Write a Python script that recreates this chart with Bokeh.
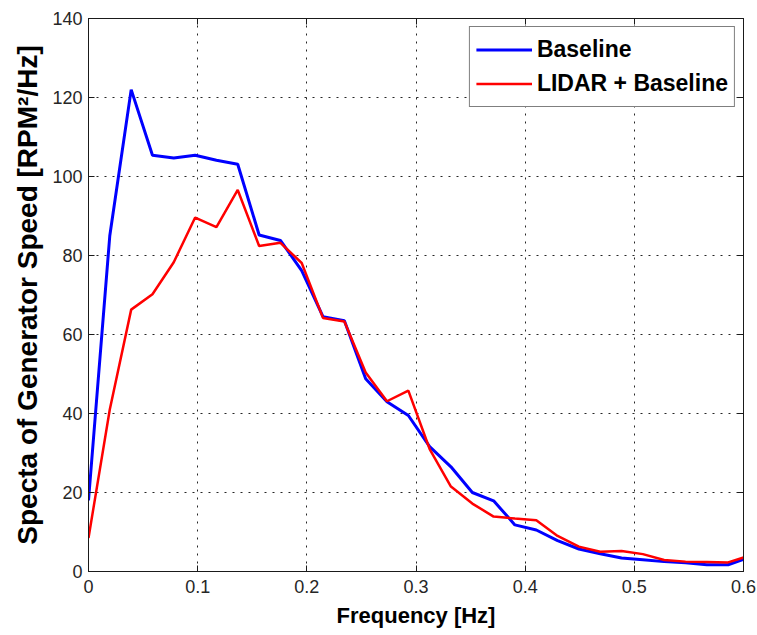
from bokeh.plotting import figure
from bokeh.models import Range1d, FixedTicker, LinearAxis, Legend, LegendItem
from bokeh.embed import file_html
from bokeh.resources import INLINE

# ---- data ----
freq = [0.0, 0.0195, 0.0391, 0.0586, 0.0781, 0.0977, 0.1172, 0.1367, 0.1563, 0.1758,
        0.1953, 0.2148, 0.2344, 0.2539, 0.2734, 0.2930, 0.3125, 0.3320, 0.3516, 0.3711,
        0.3906, 0.4102, 0.4297, 0.4492, 0.4688, 0.4883, 0.5078, 0.5273, 0.5469, 0.5664,
        0.5859, 0.6055]
baseline = [18.0, 85.0, 122.0, 105.4, 104.7, 105.4, 104.1, 103.1, 85.2, 83.8,
            76.2, 64.5, 63.5, 48.8, 43.0, 39.5, 31.6, 26.5, 20.0, 17.9,
            11.8, 10.5, 7.8, 5.7, 4.5, 3.4, 3.0, 2.5, 2.2, 1.7,
            1.7, 3.6]
lidar_baseline = [8.5, 41.0, 66.3, 70.2, 78.3, 89.6, 87.2, 96.6, 82.4, 83.2,
                  78.1, 64.2, 63.3, 50.4, 43.1, 45.8, 31.0, 21.5, 17.2, 13.9,
                  13.4, 13.0, 9.0, 6.3, 5.0, 5.2, 4.4, 2.9, 2.5, 2.4,
                  2.3, 4.0]
series_names = ["Baseline", "LIDAR + Baseline"]
x_ticks = [0, 0.1, 0.2, 0.3, 0.4, 0.5, 0.6]
x_tick_labels = ["0", "0.1", "0.2", "0.3", "0.4", "0.5", "0.6"]
y_ticks = [0, 20, 40, 60, 80, 100, 120, 140]
y_tick_labels = ["0", "20", "40", "60", "80", "100", "120", "140"]
x_label = "Frequency [Hz]"
y_label = "Specta of Generator Speed [RPM\u00b2/Hz]"

FONT = "Liberation Sans"

p = figure(width=757, height=635, output_backend="svg", toolbar_location=None,
           x_range=Range1d(0, 0.6), y_range=Range1d(0, 140),
           min_border_left=88, min_border_right=14, min_border_top=18, min_border_bottom=64)
p.background_fill_color = "white"
p.border_fill_color = "white"
p.outline_line_color = "#1a1a1a"
p.outline_line_width = 1

for ax, ticks, labels in ((p.xaxis[0], x_ticks, x_tick_labels), (p.yaxis[0], y_ticks, y_tick_labels)):
    ax.ticker = FixedTicker(ticks=ticks)
    ax.major_label_overrides = {t: l for t, l in zip(ticks, labels)}
    ax.major_tick_in = 6
    ax.major_tick_out = 0
    ax.minor_tick_line_color = None
    ax.axis_line_color = "#1a1a1a"
    ax.major_tick_line_color = "#1a1a1a"
    ax.major_label_text_font = FONT
    ax.major_label_text_font_size = "18px"
    ax.major_label_text_color = "#262626"
    ax.axis_label_text_font = FONT
    ax.axis_label_text_font_style = "bold"
    ax.axis_label_text_color = "black"

p.xaxis[0].axis_label = x_label
p.xaxis[0].axis_label_text_font_size = "22px"
p.xaxis[0].major_label_standoff = 8
p.xaxis[0].axis_label_standoff = 7
p.yaxis[0].axis_label = y_label
p.yaxis[0].axis_label_text_font_size = "28px"
p.yaxis[0].major_label_standoff = 6
p.yaxis[0].axis_label_standoff = 6

# mirrored axes (ticks inside on top and right), no labels
top_ax = LinearAxis(ticker=FixedTicker(ticks=x_ticks),
                    major_label_overrides={t: "" for t in x_ticks},
                    major_label_text_font_size="1px",
                    major_tick_in=6, major_tick_out=0, minor_tick_line_color=None,
                    axis_line_color="#1a1a1a", major_tick_line_color="#1a1a1a",
                    major_label_standoff=0)
right_ax = LinearAxis(ticker=FixedTicker(ticks=y_ticks),
                      major_label_overrides={t: "" for t in y_ticks},
                      major_label_text_font_size="1px",
                      major_tick_in=6, major_tick_out=0, minor_tick_line_color=None,
                      axis_line_color="#1a1a1a", major_tick_line_color="#1a1a1a",
                      major_label_standoff=0)
p.add_layout(top_ax, "above")
p.add_layout(right_ax, "right")

for g in (p.xgrid[0], p.ygrid[0]):
    g.grid_line_color = "black"
    g.grid_line_dash = "2 6"
    g.grid_line_width = 1
    g.grid_line_alpha = 0.85

r_base = p.line(freq, baseline, line_color="#0000ff", line_width=3)
r_lidar = p.line(freq, lidar_baseline, line_color="#ff0000", line_width=2.5)

legend = Legend(items=[LegendItem(label=series_names[0], renderers=[r_base]),
                       LegendItem(label=series_names[1], renderers=[r_lidar])],
                location="top_right")
legend.margin = 8
legend.padding = 6
legend.spacing = 1
legend.label_height = 33
legend.glyph_height = 33
legend.glyph_width = 56
legend.label_standoff = 5
legend.label_text_font = FONT
legend.label_text_font_size = "23px"
legend.label_text_font_style = "bold"
legend.label_text_color = "black"
legend.border_line_color = "black"
legend.border_line_width = 1
legend.background_fill_color = "white"
legend.background_fill_alpha = 1.0
p.add_layout(legend, "center")

open("out.html", "w").write(file_html(p, INLINE))
